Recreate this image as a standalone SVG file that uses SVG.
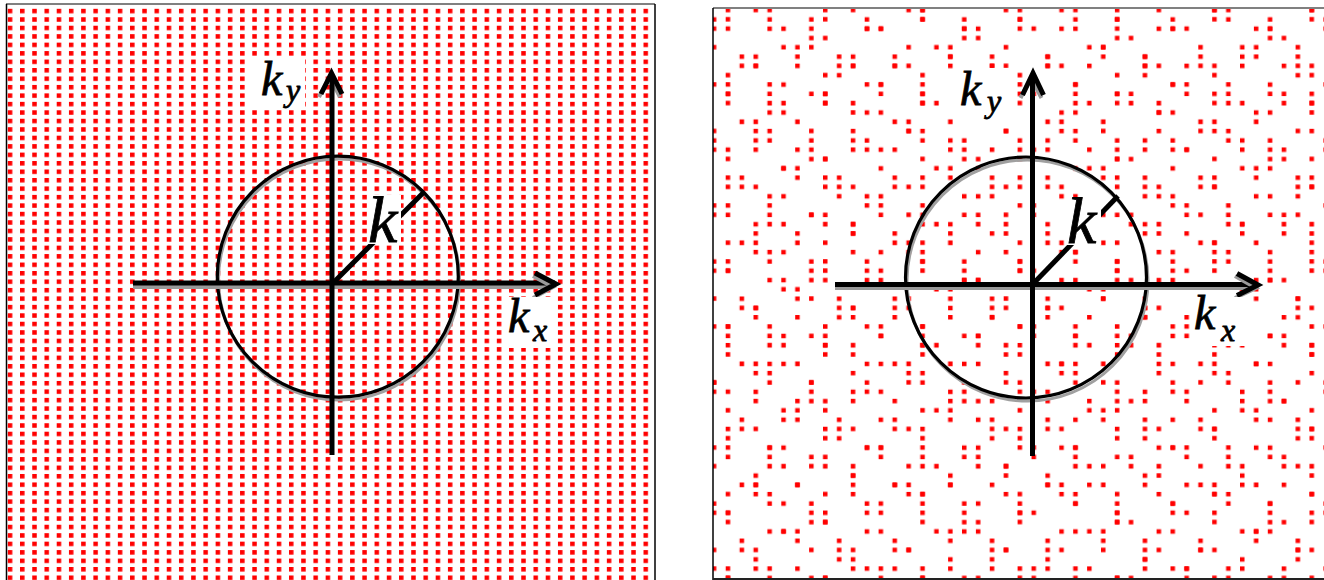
<svg xmlns="http://www.w3.org/2000/svg" width="1324" height="580" viewBox="0 0 1324 580">
<style>
.ax{stroke:#000;stroke-width:5;fill:none;stroke-linecap:butt;stroke-linejoin:miter}
.sh{stroke:#9a9a9a;stroke-width:4;fill:none}
.circ{stroke:#000;stroke-width:3.2;fill:none}
.circsh{stroke:#a0a0a0;stroke-width:3;fill:none}
.lbl{font-family:"Liberation Serif","Times New Roman",serif;font-style:italic;fill:#000;stroke:#000;stroke-width:0.8}
.box{fill:#fff}
.dot{fill:#ff0000}
.edge{stroke:#000;stroke-width:1.5}
.topedge{stroke:#808080;stroke-width:2}
</style>
<defs>
<pattern id="gridL" patternUnits="userSpaceOnUse" x="7.8" y="8.8" width="12.225" height="8.458">
<rect class="dot" x="0" y="0" width="4.5" height="4.5"/>
</pattern>
<pattern id="rndA" patternUnits="userSpaceOnUse" x="711.8" y="7.8" width="152.9" height="121.03">
<path class="dot" d="M0 9.31h4.5v4.5h-4.5zM0 18.62h4.5v4.5h-4.5zM13.9 18.62h4.5v4.5h-4.5zM41.7 0h4.5v4.5h-4.5zM55.6 0h4.5v4.5h-4.5zM55.6 9.31h4.5v4.5h-4.5zM97.3 9.31h4.5v4.5h-4.5zM97.3 18.62h4.5v4.5h-4.5zM97.3 27.93h4.5v4.5h-4.5zM111.2 27.93h4.5v4.5h-4.5zM139 0h4.5v4.5h-4.5zM27.8 46.55h4.5v4.5h-4.5zM27.8 55.86h4.5v4.5h-4.5zM41.7 55.86h4.5v4.5h-4.5zM69.5 37.24h4.5v4.5h-4.5zM83.4 37.24h4.5v4.5h-4.5zM83.4 46.55h4.5v4.5h-4.5zM125.1 46.55h4.5v4.5h-4.5zM125.1 55.86h4.5v4.5h-4.5zM139 55.86h4.5v4.5h-4.5zM125.1 65.17h4.5v4.5h-4.5zM0 74.48h4.5v4.5h-4.5zM13.9 74.48h4.5v4.5h-4.5zM13.9 83.79h4.5v4.5h-4.5zM55.6 74.48h4.5v4.5h-4.5zM55.6 83.79h4.5v4.5h-4.5zM55.6 93.1h4.5v4.5h-4.5zM69.5 93.1h4.5v4.5h-4.5zM97.3 83.79h4.5v4.5h-4.5zM111.2 83.79h4.5v4.5h-4.5zM111.2 93.1h4.5v4.5h-4.5zM139 93.1h4.5v4.5h-4.5zM139 102.41h4.5v4.5h-4.5zM27.8 111.72h4.5v4.5h-4.5zM41.7 111.72h4.5v4.5h-4.5zM83.4 111.72h4.5v4.5h-4.5z"/>
</pattern>
<pattern id="rndB" patternUnits="userSpaceOnUse" x="711.8" y="7.8" width="97.3" height="83.79">
<path class="dot" d="M13.9 0h4.5v4.5h-4.5zM13.9 9.31h4.5v4.5h-4.5zM55.6 18.62h4.5v4.5h-4.5zM69.5 18.62h4.5v4.5h-4.5zM0 37.24h4.5v4.5h-4.5zM41.7 46.55h4.5v4.5h-4.5zM41.7 55.86h4.5v4.5h-4.5zM83.4 55.86h4.5v4.5h-4.5zM69.5 74.48h4.5v4.5h-4.5zM13.9 65.17h4.5v4.5h-4.5z"/>
</pattern>
</defs>
<rect width="1324" height="580" fill="#fff"/>

<g id="left-panel">
<rect x="6" y="4" width="649" height="576" fill="url(#gridL)"/>
<line class="topedge" x1="6" y1="4" x2="655" y2="4"/>
<line class="edge" x1="6.5" y1="4" x2="6.5" y2="580"/>
<line class="edge" x1="655" y1="4" x2="655" y2="580"/>
</g>

<g id="right-panel">
<rect x="713" y="8" width="611" height="571" fill="url(#rndA)"/>
<rect x="713" y="8" width="611" height="571" fill="url(#rndB)"/>
<line class="topedge" x1="713" y1="8" x2="1324" y2="8"/>
<line class="edge" x1="713" y1="8" x2="713" y2="580"/>
<line class="topedge" x1="713" y1="579" x2="1324" y2="579" style="stroke:#222"/>
</g>

<g id="left-diagram">
<g id="left-circle">
<circle class="circsh" cx="339" cy="279.5" r="120.5"/>
<circle class="circ" cx="337.8" cy="276.7" r="120.5"/>
</g>
<g id="left-connectors">
<line class="sh" x1="133" y1="287" x2="552" y2="287"/>
<line class="ax" x1="133" y1="283" x2="555" y2="283"/>
<polyline class="sh" points="533,276 553,287 533,298"/>
<polyline class="ax" points="535,273 556,284 535,295"/>
<polyline class="sh" points="319,97 329.5,77 340,97"/>
<polyline class="ax" points="321,94 331.5,73 342,94"/>
<line class="ax" x1="332" y1="76" x2="332" y2="455"/>
<line class="ax" x1="333" y1="283" x2="423" y2="193"/>
</g>
<g id="left-label-ky">
<rect class="box" x="250" y="58" width="55" height="52"/>
<text class="lbl" x="261" y="95" font-size="48">k</text>
<text class="lbl" x="286" y="101" font-size="32">y</text>
</g>
<g id="left-label-kx">
<rect class="box" x="506" y="297" width="51" height="51"/>
<text class="lbl" x="508" y="332" font-size="48">k</text>
<text class="lbl" x="533" y="341" font-size="32">x</text>
</g>
<g id="left-label-k">
<rect class="box" x="367" y="195" width="34" height="49"/>
<text class="lbl" x="368" y="242" font-size="66">k</text>
</g>
</g>

<g id="right-diagram">
<g id="right-circle">
<circle class="circsh" cx="1027.5" cy="280.5" r="120.5"/>
<circle class="circ" cx="1026" cy="277.5" r="120.5"/>
</g>
<g id="right-connectors">
<line class="sh" x1="835" y1="288" x2="1254" y2="288"/>
<line class="ax" x1="835" y1="284.5" x2="1257" y2="284.5"/>
<polyline class="sh" points="1235,276 1256,288 1235,298"/>
<polyline class="ax" points="1237,273.5 1258,285 1237,295.5"/>
<polyline class="sh" points="1020.5,98 1031,78 1041.5,98"/>
<polyline class="ax" points="1022.5,95 1033,73 1043.5,95"/>
<line class="ax" x1="1032.5" y1="76" x2="1032.5" y2="456"/>
<line class="ax" x1="1031" y1="286" x2="1118" y2="196"/>
</g>
<g id="right-label-ky">
<rect class="box" x="956" y="68" width="54" height="56"/>
<text class="lbl" x="960" y="105" font-size="48">k</text>
<text class="lbl" x="987" y="112" font-size="32">y</text>
</g>
<g id="right-label-kx">
<rect class="box" x="1192" y="297" width="54" height="49"/>
<text class="lbl" x="1194" y="329" font-size="48">k</text>
<text class="lbl" x="1221" y="341" font-size="32">x</text>
</g>
<g id="right-label-k">
<rect class="box" x="1066" y="197" width="35" height="48"/>
<text class="lbl" x="1067" y="243" font-size="66">k</text>
</g>
</g>
</svg>
